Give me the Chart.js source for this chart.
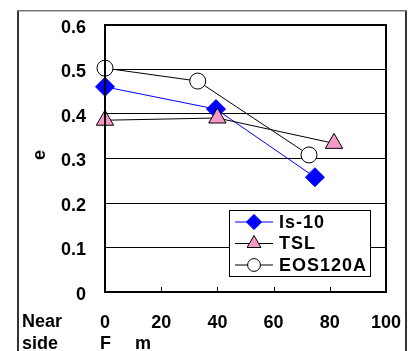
<!DOCTYPE html>
<html>
<head>
<meta charset="utf-8">
<script src="https://cdn.jsdelivr.net/npm/chart.js@4.4.0/dist/chart.umd.min.js"></script>
<style>
  html, body { margin: 0; padding: 0; background: #fff; }
  #wrap { width: 414px; height: 351px; position: relative; }
</style>
</head>
<body>
<div id="wrap"><canvas id="chart" width="414" height="351"></canvas></div>
<script>
// data
const seriesNames = ['Is-10', 'TSL', 'EOS120A'];
const is10X = [0, 39.5, 74.7];
const is10Y = [0.461, 0.411, 0.258];
const tslX = [0, 40, 81.5];
const tslY = [0.386, 0.391, 0.334];
const eosX = [0, 33, 72.6];
const eosY = [0.503, 0.474, 0.308];
const xTicks = [0, 20, 40, 60, 80, 100];
const yTicks = [0, 0.1, 0.2, 0.3, 0.4, 0.5, 0.6];

const FAMILY = '"Liberation Sans", Arial, sans-serif';
const FONT = 'bold 18px ' + FAMILY;

function pts(xs, ys) {
  return xs.map((x, i) => ({ x: x, y: ys[i] }));
}

const datasets = [
  {
    label: seriesNames[0], data: pts(is10X, is10Y), order: 3,
    borderColor: '#0000FF', borderWidth: 1,
    pointStyle: 'rectRot', pointRadius: 9.5, pointBackgroundColor: '#0000FF',
    pointBorderColor: '#0000FF', pointBorderWidth: 1
  },
  {
    label: seriesNames[1], data: pts(tslX, tslY), order: 2,
    borderColor: '#000000', borderWidth: 1,
    pointStyle: 'triangle', pointRadius: 10, pointBackgroundColor: '#F799C8',
    pointBorderColor: '#000000', pointBorderWidth: 1
  },
  {
    label: seriesNames[2], data: pts(eosX, eosY), order: 1,
    borderColor: '#000000', borderWidth: 1,
    pointStyle: 'circle', pointRadius: 8, pointBackgroundColor: '#FFFFFF',
    pointBorderColor: '#000000', pointBorderWidth: 1
  }
];

// frame, inner tick marks, axis texts and legend
const extras = {
  id: 'extras',
  beforeDraw(chart) {
    const c = chart.ctx;
    c.save();
    c.fillStyle = '#fff';
    c.fillRect(0, 0, chart.width, chart.height);
    // outer frame (left/right darker, top lighter)
    c.fillStyle = '#333';
    c.fillRect(17, 10, 2, 341);
    c.fillRect(405, 10, 2, 341);
    c.fillStyle = '#777';
    c.fillRect(17, 10, 390, 1.5);
    c.restore();
  },
  afterDatasetsDraw(chart) {
    const c = chart.ctx;
    const a = chart.chartArea;
    const xs = chart.scales.x;
    c.save();
    // x tick marks pointing inward
    c.strokeStyle = '#000';
    c.lineWidth = 1;
    xTicks.slice(1, -1).forEach(v => {
      const px = Math.round(xs.getPixelForValue(v)) + 0.5;
      c.beginPath();
      c.moveTo(px, a.bottom);
      c.lineTo(px, a.bottom - 5);
      c.stroke();
    });
    // plot frame
    c.lineWidth = 2;
    c.strokeRect(a.left, a.top, a.right - a.left, a.bottom - a.top);

    // texts
    c.fillStyle = '#000';
    c.font = FONT;
    c.textBaseline = 'middle';
    c.textAlign = 'left';
    c.fillText('Near', 22, 322);
    c.fillText('side', 22, 344);
    c.fillText('F', 100, 344);
    c.fillText('m', 135, 344);
    c.save();
    c.translate(40, 155);
    c.rotate(-Math.PI / 2);
    c.textAlign = 'center';
    c.fillText('e', 0, 0);
    c.restore();

    // legend
    const lx = 229, ly = 210, lw = 141, lh = 66;
    c.fillStyle = '#fff';
    c.fillRect(lx, ly, lw, lh);
    c.strokeStyle = '#000';
    c.lineWidth = 1;
    c.strokeRect(lx + 0.5, ly + 0.5, lw, lh);
    chart.data.datasets.forEach((ds, i) => {
      const y = ly + 12 + i * 21.5;
      c.strokeStyle = ds.borderColor;
      c.lineWidth = 1;
      c.beginPath();
      c.moveTo(235, y);
      c.lineTo(273, y);
      c.stroke();
      c.fillStyle = ds.pointBackgroundColor;
      c.strokeStyle = ds.pointBorderColor;
      Chart.helpers.drawPoint(c, {
        pointStyle: ds.pointStyle, radius: ds.pointRadius * 0.8, borderWidth: 1, rotation: 0
      }, 254, y);
      c.fillStyle = '#000';
      c.font = FONT;
      c.letterSpacing = '1px';
      c.textAlign = 'left';
      c.fillText(ds.label, 279, y + 1);
      c.letterSpacing = '0px';
    });
    c.restore();
  }
};

new Chart(document.getElementById('chart'), {
  type: 'scatter',
  data: { datasets: datasets },
  options: {
    responsive: false,
    animation: false,
    showLine: true,
    clip: false,
    layout: { padding: { left: 18, right: 28, top: 25, bottom: 0 } },
    plugins: { legend: { display: false }, tooltip: { enabled: false } },
    scales: {
      x: {
        type: 'linear', min: 0, max: 100,
        afterFit(scale) { scale.height = 59; scale.paddingLeft = 0; scale.paddingRight = 0; },
        afterBuildTicks(scale) { scale.ticks = xTicks.map(v => ({ value: v })); },
        grid: { display: false, drawTicks: false },
        border: { display: false },
        ticks: { padding: 20, color: '#000', font: { family: FAMILY, size: 18, weight: 'bold' }, maxRotation: 0 }
      },
      y: {
        type: 'linear', min: 0, max: 0.6,
        afterFit(scale) { scale.width = 87; scale.paddingTop = 0; scale.paddingBottom = 0; },
        afterBuildTicks(scale) { scale.ticks = yTicks.map(v => ({ value: v })); },
        grid: { color: '#000', lineWidth: 1, drawTicks: false },
        border: { display: false },
        ticks: {
          padding: 19, color: '#000', labelOffset: 3,
          font: { family: FAMILY, size: 18, weight: 'bold' },
          callback: v => (v === 0 ? '0' : v.toFixed(1))
        }
      }
    }
  },
  plugins: [extras]
});
</script>
</body>
</html>
